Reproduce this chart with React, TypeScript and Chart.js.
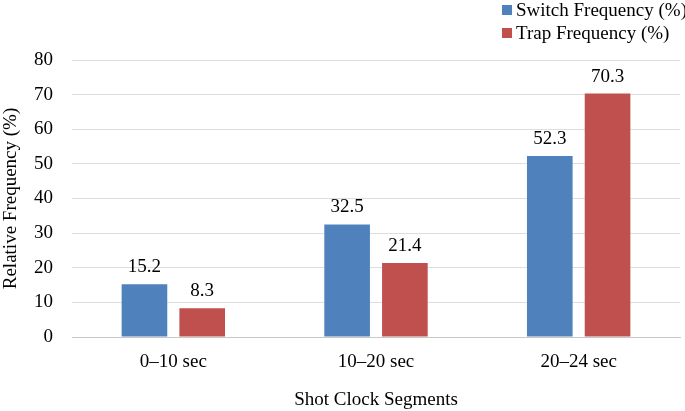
import React, { useEffect, useRef } from "react";
import { Chart, registerables } from "chart.js";

Chart.register(...registerables);

const categories = ["0–10 sec", "10–20 sec", "20–24 sec"];
const switchFrequency = [15.2, 32.5, 52.3];
const trapFrequency = [8.3, 21.4, 70.3];
const seriesNames = ["Switch Frequency (%)", "Trap Frequency (%)"];
const seriesColors = ["#4f81bd", "#c0504d"];
const yTicks = [0, 10, 20, 30, 40, 50, 60, 70, 80];

const FONT = "'Liberation Serif', 'Times New Roman', serif";
const SIZE = 19;

const valueLabels = {
  id: "valueLabels",
  afterDatasetsDraw(chart: any) {
    const ctx = chart.ctx;
    ctx.save();
    ctx.font = `${SIZE}px ${FONT}`;
    ctx.fillStyle = "#000";
    ctx.textAlign = "center";
    ctx.textBaseline = "alphabetic";
    chart.data.datasets.forEach((ds: any, di: number) => {
      const meta = chart.getDatasetMeta(di);
      meta.data.forEach((bar: any, i: number) => {
        ctx.fillText(ds.data[i].toFixed(1), bar.x, bar.y - 12);
      });
    });
    ctx.restore();
  },
};

export default function App() {
  const ref = useRef<HTMLCanvasElement>(null);
  useEffect(() => {
    document.body.style.margin = "0";
    const chart = new Chart(ref.current!, {
      type: "bar",
      data: {
        labels: categories,
        datasets: [
          { label: seriesNames[0], data: switchFrequency, backgroundColor: seriesColors[0] },
          { label: seriesNames[1], data: trapFrequency, backgroundColor: seriesColors[1] },
        ],
      },
      options: {
        animation: false,
        responsive: false,
        maintainAspectRatio: false,
        layout: { padding: { top: 60, right: 5, left: 0, bottom: 0 } },
        datasets: { bar: { categoryPercentage: 0.57, barPercentage: 0.79 } } as any,
        plugins: {
          legend: { display: false },
          tooltip: { enabled: false },
        },
        scales: {
          x: {
            afterFit: (axis: any) => {
              axis.height = 74;
            },
            grid: { display: false },
            border: { display: true, color: "#c8c8c8" },
            ticks: { color: "#000", font: { family: FONT, size: SIZE }, padding: 6 },
            title: {
              display: true,
              text: "Shot Clock Segments",
              color: "#000",
              font: { family: FONT, size: SIZE },
              padding: { top: 15, bottom: 0 },
            },
          },
          y: {
            min: 0,
            max: 80,
            afterFit: (axis: any) => {
              axis.width = 72;
            },
            afterBuildTicks: (axis: any) => {
              axis.ticks = yTicks.map((v) => ({ value: v }));
            },
            grid: { color: "#dedede", drawTicks: false },
            border: { display: false },
            ticks: { color: "#000", font: { family: FONT, size: SIZE }, padding: 19 },
            title: {
              display: true,
              text: "Relative Frequency (%)",
              color: "#000",
              font: { family: FONT, size: SIZE },
              padding: { top: 0, bottom: 11 },
            },
          },
        },
      },
      plugins: [valueLabels],
    });
    return () => chart.destroy();
  }, []);

  return (
    <div style={{ position: "relative", width: 685, height: 411, fontFamily: FONT }}>
      <canvas ref={ref} width={685} height={411} style={{ display: "block" }} />
      <div style={{ position: "absolute", left: 502, top: -2, fontSize: SIZE, lineHeight: "23px", color: "#000" }}>
        {seriesNames.map((name, i) => (
          <div key={name} style={{ display: "flex", alignItems: "center", whiteSpace: "nowrap" }}>
            <span style={{ display: "inline-block", width: 10, height: 10, background: seriesColors[i], marginRight: 4 }} />
            {name}
          </div>
        ))}
      </div>
    </div>
  );
}
